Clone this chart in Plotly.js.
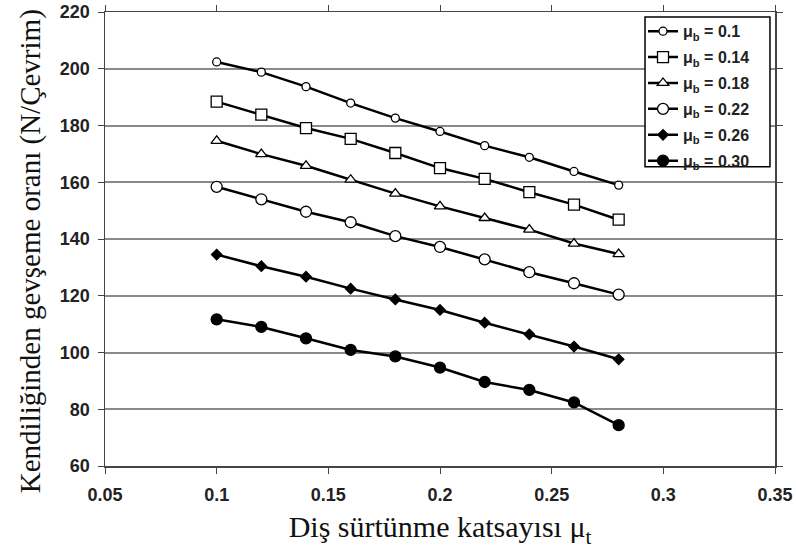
<!DOCTYPE html>
<html><head><meta charset="utf-8">
<script src="https://cdn.plot.ly/plotly-3.0.1.min.js"></script>
<style>body{margin:0;background:#fff}#c{width:796px;height:556px}</style>
</head><body><div id="c"></div>
<script>
var mu_t = [0.10, 0.12, 0.14, 0.16, 0.18, 0.20, 0.22, 0.24, 0.26, 0.28];
var mb010 = [202.4, 198.8, 193.7, 187.9, 182.6, 177.9, 172.9, 168.8, 163.8, 159.0];
var mb014 = [188.4, 183.8, 179.1, 175.3, 170.3, 165.0, 161.2, 156.5, 152.1, 146.8];
var mb018 = [174.6, 169.9, 165.8, 160.9, 156.0, 151.5, 147.4, 143.3, 138.4, 134.7];
var mb022 = [158.4, 154.0, 149.6, 145.9, 141.0, 137.2, 132.8, 128.3, 124.4, 120.4];
var mb026 = [134.5, 130.4, 126.7, 122.5, 118.7, 115.0, 110.5, 106.4, 102.1, 97.6];
var mb030 = [111.7, 109.0, 105.0, 100.9, 98.6, 94.7, 89.6, 86.8, 82.4, 74.4];
var names = ['μ<sub>b</sub> = 0.1','μ<sub>b</sub> = 0.14','μ<sub>b</sub> = 0.18','μ<sub>b</sub> = 0.22','μ<sub>b</sub> = 0.26','μ<sub>b</sub> = 0.30'];
var series = [mb010, mb014, mb018, mb022, mb026, mb030];
var yTicks = [60, 80, 100, 120, 140, 160, 180, 200, 220];
var xTicks = [0.05, 0.1, 0.15, 0.2, 0.25, 0.3, 0.35];
var xTickText = ['0.05', '0.1', '0.15', '0.2', '0.25', '0.3', '0.35'];
var yTitle = 'Kendiliğinden gevşeme oranı (N/Çevrim)';
var xTitle = 'Diş sürtünme katsayısı μ<sub>t</sub>';

var styles = [
  {symbol:'circle', size:8, color:'#fff'},
  {symbol:'square', size:11, color:'#fff'},
  {symbol:'triangle-up', size:10, color:'#fff'},
  {symbol:'circle', size:11, color:'#fff'},
  {symbol:'diamond', size:8, color:'#000'},
  {symbol:'circle', size:11, color:'#000'}
];
var traces = series.map(function(s, i){
  return {
    x: mu_t, y: s, name: names[i], type:'scatter', mode:'lines+markers',
    legendgroup: 'g'+i,
    line:{color:'#000', width:2.5},
    marker:{symbol:styles[i].symbol, size:styles[i].size, color:styles[i].color,
            line:{color:'#000', width:1.3}}
  };
});
var tickFont = {family:'Liberation Sans, Arial', size:18, color:'#222', weight:'bold'};
var layout = {
  width:796, height:556,
  margin:{l:105, r:21, t:12, b:90, autoexpand:false},
  paper_bgcolor:'#fff', plot_bgcolor:'#fff',
  showlegend:true,
  legend:{x:0.803, y:0.995, xanchor:'left', yanchor:'top',
    bgcolor:'rgba(0,0,0,0)', borderwidth:0,
    font:{family:'Liberation Sans, Arial', size:16, color:'#222', weight:'bold'},
    tracegroupgap:2.1},
  shapes:[{type:'rect', xref:'paper', yref:'paper', x0:0.806, x1:0.9925, y0:0.659, y1:0.989,
    fillcolor:'#fff', line:{color:'#000', width:1.5}, layer:'above'}],
  xaxis:{range:[0.05,0.35], tickvals:xTicks, ticktext:xTickText,
    showgrid:false, zeroline:false, showline:true, linecolor:'#444', linewidth:1.5,
    mirror:'ticks', ticks:'outside', ticklen:6, tickcolor:'#444', ticklabelstandoff:6,
    tickfont:tickFont,
    title:{text:xTitle, standoff:12,
      font:{family:'Liberation Serif, Times New Roman', size:30, color:'#111'}}},
  yaxis:{range:[60,220], tickvals:yTicks,
    showgrid:true, gridcolor:'#8a8a8a', gridwidth:2, zeroline:false,
    showline:true, linecolor:'#444', linewidth:1.5,
    mirror:'ticks', ticks:'outside', ticklen:6, tickcolor:'#444', ticklabelstandoff:4,
    tickfont:tickFont},
  annotations:[{text:yTitle, textangle:-90, xref:'paper', yref:'paper',
    x:-0.112, y:0.473, xanchor:'center', yanchor:'middle', showarrow:false,
    font:{family:'Liberation Serif, Times New Roman', size:29, color:'#111'}}]
};
Plotly.newPlot('c', traces, layout, {displayModeBar:false, staticPlot:true});
</script></body></html>
